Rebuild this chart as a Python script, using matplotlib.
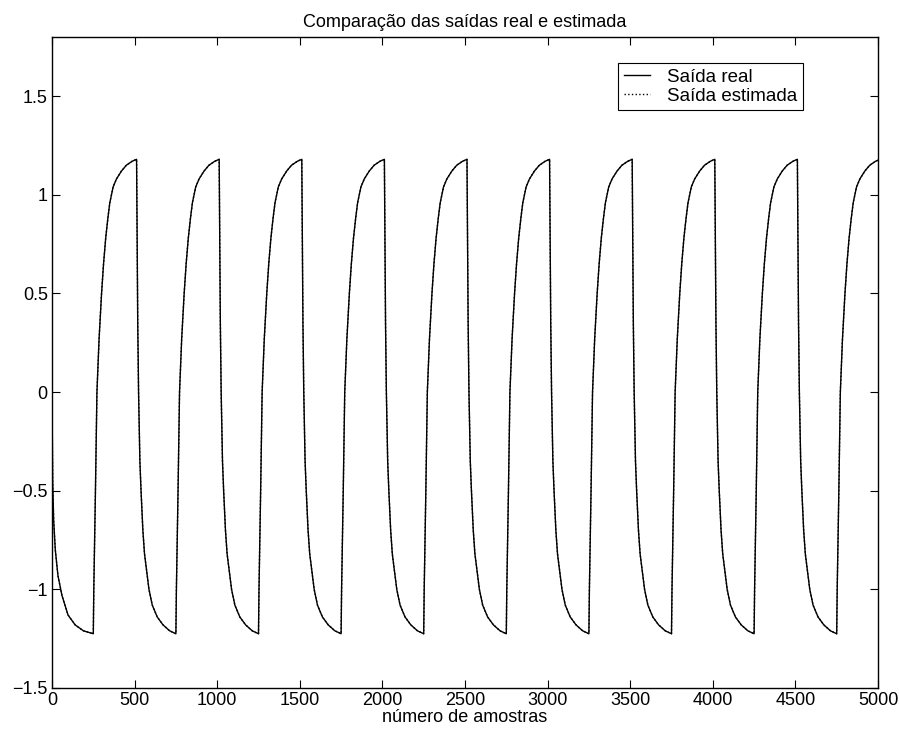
import matplotlib
matplotlib.use("Agg")
import matplotlib.pyplot as plt
import numpy as np

plt.rcParams['font.family'] = ['Liberation Sans', 'DejaVu Sans']

# ---- data ----
title = "Comparação das saídas real e estimada"
xlabel = "número de amostras"
legend_labels = ["Saída real", "Saída estimada"]

# initial fall from 0 (sample offsets, values)
init_offsets = [0, 4, 10, 20, 36, 60, 97, 140, 190, 248]
init_values = [0.0, -0.45, -0.65, -0.80, -0.93, -1.03, -1.13, -1.18, -1.21, -1.225]

# rising half-cycle profile (offset from rise start)
rise_offsets = [0, 3, 7, 13, 22, 35, 50, 62, 75, 88, 100, 120, 140, 170, 200, 235, 262]
rise_values = [-1.225, -1.0, -0.8, -0.5, 0.0, 0.27, 0.5, 0.65, 0.78, 0.88, 0.96, 1.04,
               1.08, 1.12, 1.15, 1.17, 1.18]

# falling half-cycle profile (offset from fall start)
drop_offsets = [0, 3, 7, 12, 20, 27, 38, 48, 60, 75, 95, 125, 160, 200, 238]
drop_values = [1.18, 0.8, 0.35, 0.0, -0.35, -0.5, -0.7, -0.82, -0.9, -1.0, -1.08,
               -1.14, -1.18, -1.21, -1.225]

rise_starts = [250, 750, 1250, 1750, 2250, 2750, 3250, 3750, 4250, 4750]
drop_starts = [512, 1012, 1512, 2012, 2512, 3012, 3512, 4012, 4512]

xticks = [0, 500, 1000, 1500, 2000, 2500, 3000, 3500, 4000, 4500, 5000]
yticks = [-1.5, -1, -0.5, 0, 0.5, 1, 1.5]

# ---- assemble the series from the read segments ----
xs = list(init_offsets)
ys = list(init_values)
for k, rs in enumerate(rise_starts):
    xs += [rs + o for o in rise_offsets]
    ys += rise_values
    if k < len(drop_starts):
        xs += [drop_starts[k] + o for o in drop_offsets]
        ys += drop_values
xs = np.array(xs, dtype=float)
ys = np.array(ys, dtype=float)

fig = plt.figure(figsize=(8.99, 7.36), dpi=100)
ax = fig.add_axes([52 / 899, 48 / 736, 826 / 899, 651 / 736])

ax.plot(xs, ys, color='black', linestyle=':', linewidth=1.0, label=legend_labels[1], zorder=2)
ax.plot(xs, ys, color='black', linestyle='-', linewidth=1.0, label=legend_labels[0], zorder=3)

ax.set_xlim(0, 5000)
ax.set_ylim(-1.5, 1.8)
ax.set_xticks(xticks)
ax.set_yticks(yticks)
ax.set_yticklabels([("\u2212" + f"{abs(v):g}") if v < 0 else f"{v:g}" for v in yticks])
ax.tick_params(direction='in', top=True, right=True, length=6, width=0.8,
               labelsize=13, pad=3)
for s in ax.spines.values():
    s.set_linewidth(1.0)

ax.set_title(title, fontsize=13, pad=7)
ax.set_xlabel(xlabel, fontsize=13, labelpad=0)

handles, labels = ax.get_legend_handles_labels()
leg = ax.legend([handles[1], handles[0]], [labels[1], labels[0]],
                loc='upper right', bbox_to_anchor=(0.909, 0.960), borderaxespad=0,
                fontsize=13.5, fancybox=False, framealpha=1, edgecolor='black',
                handlelength=1.4, borderpad=0.3, labelspacing=0.1, handletextpad=0.9)
leg.get_frame().set_linewidth(0.8)

fig.savefig("out.png", dpi=100)
